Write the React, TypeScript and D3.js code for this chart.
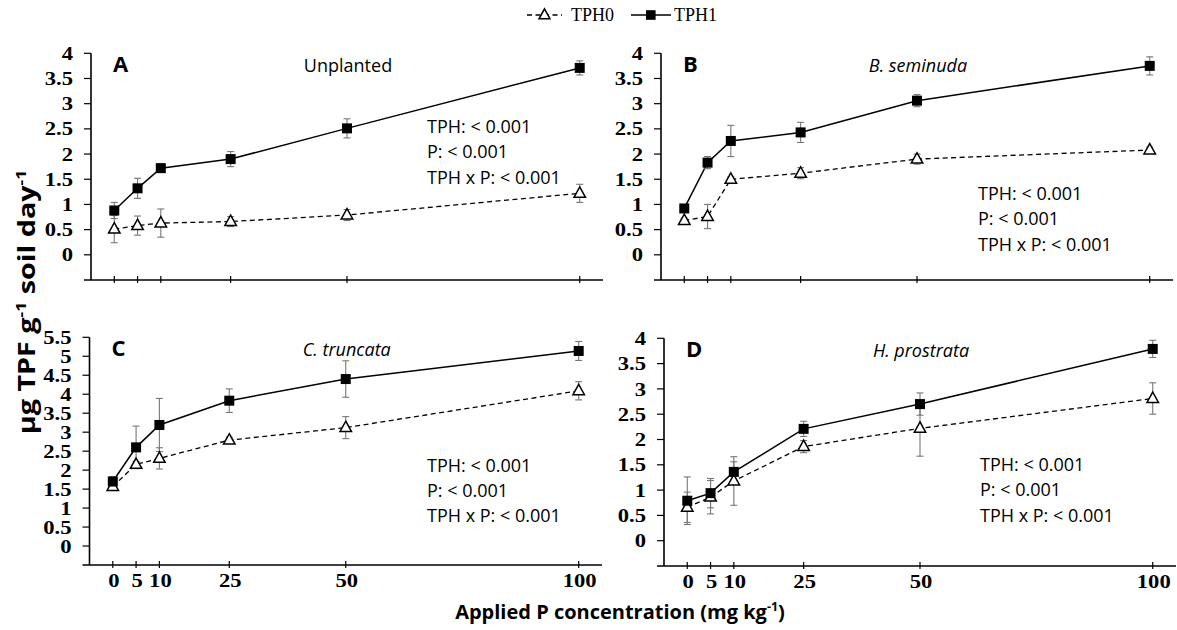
import React from "react";
import * as d3 from "d3";

// Applied P doses (mg kg-1)
const doses = [0, 5, 10, 25, 50, 100];
const doseLabels = ["0", "5", "10", "25", "50", "100"];

// Dehydrogenase activity (µg TPF g-1 soil day-1), means and standard errors
const tph0A = [0.51, 0.58, 0.63, 0.66, 0.79, 1.22];
const err0A = [0.27, 0.19, 0.28, 0.1, 0.11, 0.18];
const tph1A = [0.88, 1.32, 1.72, 1.9, 2.51, 3.71];
const err1A = [0.16, 0.2, 0.08, 0.15, 0.19, 0.14];

const tph0B = [0.68, 0.76, 1.5, 1.62, 1.9, 2.08];
const err0B = [0.05, 0.24, 0.05, 0.11, 0.1, 0.06];
const tph1B = [0.92, 1.83, 2.26, 2.43, 3.06, 3.75];
const err1B = [0.05, 0.12, 0.31, 0.2, 0.12, 0.18];

const tph0C = [1.57, 2.15, 2.31, 2.79, 3.12, 4.09];
const err0C = [0.05, 0.08, 0.28, 0.08, 0.29, 0.24];
const tph1C = [1.7, 2.6, 3.19, 3.83, 4.4, 5.14];
const err1C = [0.13, 0.56, 0.7, 0.31, 0.48, 0.25];

const tph0D = [0.66, 0.86, 1.18, 1.86, 2.22, 2.81];
const err0D = [0.3, 0.33, 0.48, 0.12, 0.55, 0.31];
const tph1D = [0.79, 0.94, 1.36, 2.21, 2.7, 3.79];
const err1D = [0.47, 0.29, 0.2, 0.15, 0.22, 0.17];

const yTicks4 = [0, 0.5, 1, 1.5, 2, 2.5, 3, 3.5, 4];
const yTicks55 = [0, 0.5, 1, 1.5, 2, 2.5, 3, 3.5, 4, 4.5, 5, 5.5];

const statLines = ["TPH: < 0.001", "P: < 0.001", "TPH x P: < 0.001"];

const panels = [
  { letter: "A", title: "Unplanted", italic: false, t0: tph0A, e0: err0A, t1: tph1A, e1: err1A, ticks: yTicks4,
    left: 91, right: 603, top: 53.3, bottom: 280, statX: 427, statY: 133, xLabels: false },
  { letter: "B", title: "B. seminuda", italic: true, t0: tph0B, e0: err0B, t1: tph1B, e1: err1B, ticks: yTicks4,
    left: 661, right: 1173, top: 53.3, bottom: 280, statX: 978, statY: 200, xLabels: false },
  { letter: "C", title: "C. truncata", italic: true, t0: tph0C, e0: err0C, t1: tph1C, e1: err1C, ticks: yTicks55,
    left: 89.5, right: 602, top: 337.3, bottom: 565, statX: 427, statY: 471.5, xLabels: true },
  { letter: "D", title: "H. prostrata", italic: true, t0: tph0D, e0: err0D, t1: tph1D, e1: err1D, ticks: yTicks4,
    left: 664, right: 1176, top: 338.3, bottom: 566, statX: 980, statY: 471, xLabels: true },
];

const SERIF = "'Liberation Serif', 'Times New Roman', serif";
const SANS = "'Open Sans', 'Noto Sans', sans-serif";

function Triangle({ x, y, s }: { x: number; y: number; s: number }) {
  const h = s * 0.9;
  const path = `M${x},${y - h * 0.62} L${x + s / 2},${y + h * 0.38} L${x - s / 2},${y + h * 0.38} Z`;
  return <path d={path} fill="#fff" stroke="#000" strokeWidth={1.5} />;
}

// Bold serif tick label, widened slightly
function TickText({ x, y, anchor, children }: { x: number; y: number; anchor: string; children: React.ReactNode }) {
  return (
    <g transform={`translate(${x},${y}) scale(1.16,1)`}>
      <text x={0} y={0} textAnchor={anchor} fontFamily={SERIF} fontWeight="bold" fontSize={19.5}>
        {children}
      </text>
    </g>
  );
}

function Panel({ p }: { p: (typeof panels)[number] }) {
  const yMax = p.ticks[p.ticks.length - 1];
  const x = d3.scaleLinear().domain([-5, 105]).range([p.left, p.right]);
  const y = d3.scaleLinear().domain([-0.5, yMax]).range([p.bottom, p.top]);
  const line = d3
    .line<number>()
    .x((_, i) => x(doses[i]))
    .y((v) => y(v));
  const x0 = x(-5);
  return (
    <g>
      {/* axes */}
      <line x1={x0} x2={x0} y1={y(yMax)} y2={p.bottom} stroke="#000" strokeWidth={1.6} />
      <line x1={x0 - 7} x2={p.right} y1={p.bottom} y2={p.bottom} stroke="#000" strokeWidth={1.6} />
      {p.ticks.map((t) => (
        <g key={t}>
          <line x1={x0 - 7} x2={x0} y1={y(t)} y2={y(t)} stroke="#000" strokeWidth={1.2} />
          <TickText x={x0 - 18} y={y(t) + 6.6} anchor="end">
            {t}
          </TickText>
        </g>
      ))}
      {doses.map((d, i) => (
        <g key={d}>
          <line x1={x(d)} x2={x(d)} y1={p.bottom - 4} y2={p.bottom + 3} stroke="#000" strokeWidth={1.2} />
          {p.xLabels && (
            <TickText x={x(d) + 1} y={p.bottom + 21.5} anchor="middle">
              {doseLabels[i]}
            </TickText>
          )}
        </g>
      ))}

      {/* series lines */}
      <path d={line(p.t0) || ""} fill="none" stroke="#000" strokeWidth={1.3} strokeDasharray="5,3.5" />
      <path d={line(p.t1) || ""} fill="none" stroke="#000" strokeWidth={1.5} />

      {/* error bars */}
      {[
        { v: p.t0, e: p.e0 },
        { v: p.t1, e: p.e1 },
      ].map((s, si) =>
        s.v.map((v, i) => {
          const cx = x(doses[i]);
          const y1 = y(v + s.e[i]);
          const y2 = y(v - s.e[i]);
          return (
            <g key={`${si}-${i}`} stroke="#777" strokeWidth={1.1}>
              <line x1={cx} x2={cx} y1={y1} y2={y2} />
              <line x1={cx - 3.5} x2={cx + 3.5} y1={y1} y2={y1} />
              <line x1={cx - 3.5} x2={cx + 3.5} y1={y2} y2={y2} />
            </g>
          );
        })
      )}

      {/* markers */}
      {p.t0.map((v, i) => (
        <Triangle key={`t${i}`} x={x(doses[i])} y={y(v)} s={11.5} />
      ))}
      {p.t1.map((v, i) => (
        <rect key={`s${i}`} x={x(doses[i]) - 5} y={y(v) - 5} width={10} height={10} fill="#000" />
      ))}

      {/* labels */}
      <text x={p.left + 22} y={p.top + 18.5} fontFamily={SANS} fontWeight="bold" fontSize={22}>
        {p.letter}
      </text>
      <text
        x={(p.left + p.right) / 2 + 1}
        y={p.top + 18.5}
        textAnchor="middle"
        fontFamily={SANS}
        fontStyle={p.italic ? "italic" : "normal"}
        fontSize={18}
      >
        {p.title}
      </text>
      {statLines.map((s, i) => (
        <text key={s} x={p.statX} y={p.statY + i * 25.3} fontFamily={SANS} fontSize={18}>
          {s}
        </text>
      ))}
    </g>
  );
}

export default function App() {
  return (
    <svg
      width={1177}
      height={630}
      viewBox="0 0 1177 630"
      style={{ position: "absolute", left: 0, top: 0, background: "#fff" }}
    >
      <rect width={1177} height={630} fill="#fff" />
      {/* legend */}
      <g>
        <line x1={527} x2={562} y1={15} y2={15} stroke="#000" strokeWidth={1.3} strokeDasharray="5,3.5" />
        <Triangle x={544.5} y={15} s={11} />
        <text x={571} y={21} fontFamily={SERIF} fontSize={18}>TPH0</text>
        <line x1={631} x2={671} y1={15} y2={15} stroke="#000" strokeWidth={1.5} />
        <rect x={646} y={10.2} width={9.6} height={9.6} fill="#000" />
        <text x={674} y={21} fontFamily={SERIF} fontSize={18}>TPH1</text>
      </g>

      {panels.map((p) => (
        <Panel key={p.letter} p={p} />
      ))}

      {/* shared axis titles */}
      <g transform="translate(35,302) rotate(-90) scale(1.25,1)">
        <text x={0} y={0} textAnchor="middle" fontFamily={SANS} fontWeight="bold" fontSize={23}>
          μg TPF g<tspan dy="-9" fontSize={14}>-1</tspan>
          <tspan dy="9"> soil day</tspan>
          <tspan dy="-9" fontSize={14}>-1</tspan>
        </text>
      </g>
      <text x={620} y={619} textAnchor="middle" fontFamily={SANS} fontWeight="bold" fontSize={20}>
        Applied P concentration (mg kg<tspan dy="-8" fontSize={12.5}>-1</tspan>
        <tspan dy="8">)</tspan>
      </text>
    </svg>
  );
}
